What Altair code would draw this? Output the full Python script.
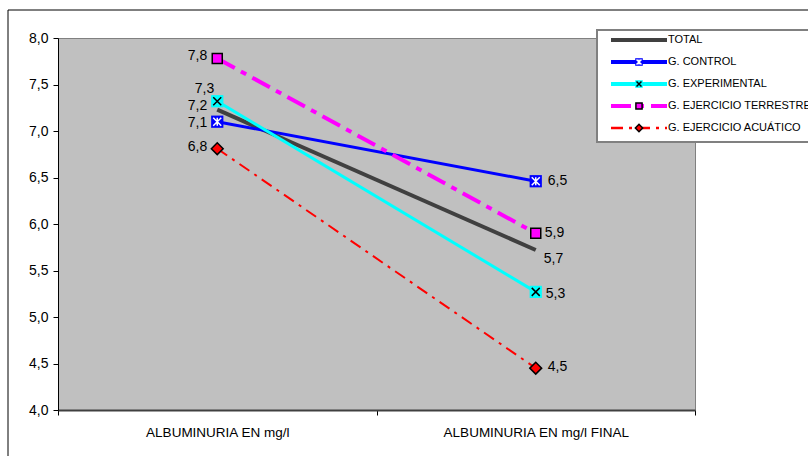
import altair as alt
import pandas as pd

categories = ["ALBUMINURIA EN mg/l", "ALBUMINURIA EN mg/l FINAL"]
series = ["TOTAL", "G. CONTROL", "G. EXPERIMENTAL", "G. EJERCICIO TERRESTRE", "G. EJERCICIO ACUÁTICO"]
initial = [7.23, 7.10, 7.32, 7.78, 6.81]
final = [5.72, 6.46, 5.27, 5.90, 4.45]

colors = ["#404040", "#0000FF", "#00FFFF", "#FF00FF", "#FF0000"]
widths = [4, 3, 3, 4, 2]
dashes = [None, None, None, [20, 7, 6, 7], [12, 6, 3, 6]]

# label offsets (pixels) for the first and last point of each series
left_dx = [-10, -10, -3, -10, -10]
left_dy = [-4, 1, -12, -2, -2]
right_dx = [8, 12, 10, 9, 12]
right_dy = [9, 0, 2, 0, -1]

rows = []
for i, s in enumerate(series):
    rows.append({"series": s, "stage": categories[0], "value": initial[i]})
    rows.append({"series": s, "stage": categories[1], "value": final[i]})
df = pd.DataFrame(rows)
legend_df = pd.DataFrame({"series": series})
one = pd.DataFrame({"a": [0]})

FONT = "Liberation Sans"
XPATH = "M-1,-1L1,1M-1,1L1,-1"
STAR = "M-1,-1L1,1M-1,1L1,-1M0,-1L0,1"

X = alt.X(
    "stage:N",
    scale=alt.Scale(type="band", domain=categories, paddingInner=0, paddingOuter=0),
    bandPosition=0.5,
    axis=alt.Axis(
        title=None, labelAngle=0, labelFont=FONT, labelFontSize=13.5, labelColor="black",
        labelPadding=10, labelLimit=500, tickBand="extent", tickSize=5, tickColor="black",
        domainColor="#404040", domainWidth=2, grid=False,
    ),
)
Y = alt.Y(
    "value:Q",
    scale=alt.Scale(domain=[4, 8], nice=False, zero=False),
    axis=alt.Axis(
        title=None, values=[4, 4.5, 5, 5.5, 6, 6.5, 7, 7.5, 8],
        labelExpr="replace(format(datum.value, '.1f'), '.', ',')",
        labelFont=FONT, labelFontSize=14, labelColor="black", labelPadding=5,
        tickSize=5, tickColor="black", domainColor="black", grid=False,
    ),
)

base = alt.Chart(df)
main_layers = []
for i, s in enumerate(series):
    kw = dict(color=colors[i], strokeWidth=widths[i])
    if dashes[i] is not None:
        kw["strokeDash"] = dashes[i]
    main_layers.append(
        base.transform_filter(alt.datum.series == s).mark_line(**kw).encode(x=X, y=Y)
    )


def markers(data_chart, s, enc, scale=1.0):
    out = []
    f = data_chart.transform_filter(alt.datum.series == s)
    if s == "G. CONTROL":
        out.append(f.mark_point(shape="square", filled=True, color="#0000FF", opacity=1, size=150 * scale ** 2).encode(**enc))
        out.append(f.mark_point(shape=STAR, filled=False, color="white", strokeWidth=1.5, opacity=1, size=64 * scale ** 2).encode(**enc))
    elif s == "G. EXPERIMENTAL":
        out.append(f.mark_point(shape="square", filled=True, color="#00FFFF", opacity=1, size=150 * scale ** 2).encode(**enc))
        out.append(f.mark_point(shape=XPATH, filled=False, color="black", strokeWidth=1.5, opacity=1, size=64 * scale ** 2).encode(**enc))
    elif s == "G. EJERCICIO TERRESTRE":
        out.append(f.mark_point(shape="square", filled=True, fill="#FF00FF", stroke="black", strokeWidth=1.5, opacity=1, size=100 * scale ** 2).encode(**enc))
    elif s == "G. EJERCICIO ACUÁTICO":
        out.append(f.mark_point(shape="diamond", filled=True, fill="#FF0000", stroke="black", strokeWidth=1.5, opacity=1, size=140 * scale ** 2).encode(**enc))
    return out


for s in series:
    main_layers += markers(base, s, dict(x=X, y=Y))

labeled = base.transform_calculate(lbl="replace(format(datum.value, '.1f'), '.', ',')")
for i, s in enumerate(series):
    main_layers.append(
        labeled.transform_filter((alt.datum.series == s) & (alt.datum.stage == categories[0]))
        .mark_text(align="right", baseline="middle", dx=left_dx[i], dy=left_dy[i], font=FONT, fontSize=14, color="black")
        .encode(x=X, y=Y, text="lbl:N")
    )
    main_layers.append(
        labeled.transform_filter((alt.datum.series == s) & (alt.datum.stage == categories[1]))
        .mark_text(align="left", baseline="middle", dx=right_dx[i], dy=right_dy[i], font=FONT, fontSize=14, color="black")
        .encode(x=X, y=Y, text="lbl:N")
    )

main = alt.layer(*main_layers)

# legend
YL = alt.Y("series:N", scale=alt.Scale(type="point", domain=series, range=[2, 90], padding=0), axis=None)
lbase = alt.Chart(legend_df)
legend_layers = [
    alt.Chart(one).mark_rect(fill="white", stroke="#808080", strokeWidth=2).encode(
        x=alt.value(539), x2=alt.value(820), y=alt.value(-8), y2=alt.value(104)
    )
]
for i, s in enumerate(series):
    kw = dict(color=colors[i], strokeWidth=min(widths[i] + 1, 4) if i < 4 else 2.5)
    if dashes[i] is not None:
        kw["strokeDash"] = dashes[i]
    legend_layers.append(
        lbase.transform_filter(alt.datum.series == s).mark_rule(**kw).encode(
            x=alt.value(553), x2=alt.value(609), y=YL
        )
    )
for s in series:
    legend_layers += markers(lbase, s, dict(x=alt.value(581), y=YL), scale=0.62)
legend_layers.append(
    lbase.mark_text(align="left", baseline="middle", font=FONT, fontSize=11, color="black").encode(
        x=alt.value(610), y=YL, text="series:N"
    )
)
legend = alt.layer(*legend_layers)

border = alt.Chart(one).mark_rect(fill="white", fillOpacity=0, stroke="black", strokeWidth=1).encode(
    x=alt.value(-50), x2=alt.value(900), y=alt.value(-28), y2=alt.value(600)
)

chart = (
    alt.layer(border, main, legend)
    .resolve_scale(y="independent")
    .properties(
        width=637, height=372,
        autosize=alt.AutoSizeParams(type="none"),
        padding={"left": 58, "top": 38, "right": 113, "bottom": 46},
        background="white",
    )
    .configure_view(fill="#C0C0C0", stroke="#808080", strokeWidth=1)
)

chart.save("out.html", embed_options={"renderer": "svg", "actions": False})
